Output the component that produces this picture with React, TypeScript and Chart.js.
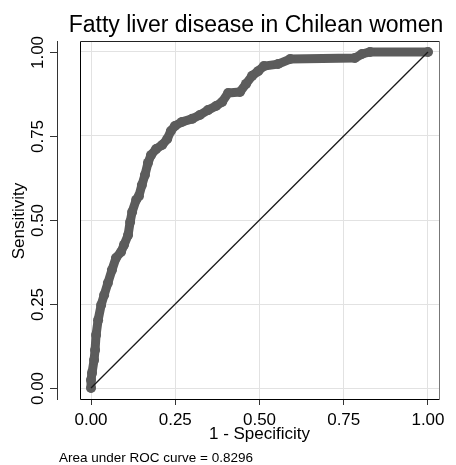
import React, { useEffect, useRef } from "react";
import { Chart, registerables } from "chart.js";

Chart.register(...registerables);

// 1 - Specificity (false positive rate)
const FPR = [0, 0, 0.003, 0.009, 0.012, 0.015, 0.021, 0.030, 0.039, 0.050, 0.062, 0.074, 0.089, 0.098, 0.110, 0.116, 0.122, 0.134, 0.142, 0.151, 0.160, 0.169, 0.178, 0.193, 0.211, 0.226, 0.237, 0.249, 0.270, 0.300, 0.323, 0.347, 0.371, 0.389, 0.407, 0.442, 0.460, 0.478, 0.496, 0.513, 0.555, 0.591, 0.783, 0.804, 0.828, 1.0];
// Sensitivity
const SENS = [0, 0.024, 0.045, 0.083, 0.113, 0.158, 0.202, 0.247, 0.277, 0.3125, 0.351, 0.387, 0.405, 0.426, 0.455, 0.494, 0.524, 0.560, 0.571, 0.604, 0.634, 0.670, 0.693, 0.711, 0.723, 0.741, 0.765, 0.780, 0.792, 0.801, 0.8125, 0.827, 0.839, 0.851, 0.878, 0.881, 0.905, 0.929, 0.943, 0.958, 0.964, 0.979, 0.982, 0.994, 1.0, 1.0];
// Reference (chance) line
const DIAG_X = [0, 1];
const DIAG_Y = [0, 1];
const TICKS = [0, 0.25, 0.5, 0.75, 1];
const TICK_LABELS = ["0.00", "0.25", "0.50", "0.75", "1.00"];

const TITLE = "Fatty liver disease in Chilean women";
const X_TITLE = "1 - Specificity";
const Y_TITLE = "Sensitivity";
const NOTE = "Area under ROC curve = 0.8296";

const FONT = "'Liberation Sans', Arial, Helvetica, sans-serif";

const decorPlugin = {
  id: "decor",
  afterDraw(chart: any) {
    const ctx = chart.ctx as CanvasRenderingContext2D;
    const ca = chart.chartArea;
    const ys = chart.scales.y;
    ctx.save();
    // plot frame
    ctx.lineWidth = 1;
    ctx.strokeStyle = "#000";
    ctx.beginPath();
    ctx.moveTo(ca.left + 0.5, ca.top + 0.5);
    ctx.lineTo(ca.left + 0.5, ca.bottom + 0.5);
    ctx.lineTo(ca.right + 0.5, ca.bottom + 0.5);
    ctx.stroke();
    ctx.strokeStyle = "#222";
    ctx.beginPath();
    ctx.moveTo(ca.left + 0.5, ca.top + 0.5);
    ctx.lineTo(ca.right + 0.5, ca.top + 0.5);
    ctx.stroke();
    ctx.strokeStyle = "#777";
    ctx.beginPath();
    ctx.moveTo(ca.right + 0.5, ca.top + 0.5);
    ctx.lineTo(ca.right + 0.5, ca.bottom + 0.5);
    ctx.stroke();

    // offset y axis
    const axX = ca.left - 23;
    ctx.strokeStyle = "#333";
    ctx.beginPath();
    ctx.moveTo(axX + 0.5, ca.top);
    ctx.lineTo(axX + 0.5, ca.bottom + 1);
    ctx.stroke();
    ctx.fillStyle = "#000";
    ctx.font = `17px ${FONT}`;
    TICKS.forEach((v, i) => {
      const py = Math.round(ys.getPixelForValue(v)) + 0.5;
      ctx.beginPath();
      ctx.moveTo(axX - 7, py);
      ctx.lineTo(axX + 0.5, py);
      ctx.stroke();
      ctx.save();
      ctx.translate(axX - 14, py);
      ctx.rotate(-Math.PI / 2);
      ctx.textAlign = "center";
      ctx.textBaseline = "alphabetic";
      ctx.fillText(TICK_LABELS[i], 0, 0);
      ctx.restore();
    });
    // y title
    ctx.save();
    ctx.translate(24, ys.getPixelForValue(0.5) + 1);
    ctx.rotate(-Math.PI / 2);
    ctx.textAlign = "center";
    ctx.textBaseline = "alphabetic";
    ctx.fillText(Y_TITLE, 0, 0);
    ctx.restore();

    // title
    ctx.font = `23px ${FONT}`;
    ctx.textAlign = "center";
    ctx.textBaseline = "alphabetic";
    ctx.fillText(TITLE, 256, 32);

    // note
    ctx.font = `13.5px ${FONT}`;
    ctx.textAlign = "left";
    ctx.fillText(NOTE, 59, 462);
    ctx.restore();
  },
};

export default function App() {
  const ref = useRef<HTMLCanvasElement | null>(null);
  useEffect(() => {
    if (!ref.current) return;
    const chart = new Chart(ref.current, {
      type: "scatter",
      data: {
        datasets: [
          {
            label: "Reference",
            data: DIAG_X.map((x, i) => ({ x, y: DIAG_Y[i] })),
            showLine: true,
            borderColor: "#1a1a1a",
            borderWidth: 1.3,
            pointRadius: 0,
            order: 0,
          },
          {
            label: "ROC",
            data: FPR.map((x, i) => ({ x, y: SENS[i] })),
            showLine: true,
            borderColor: "#5c5c5c",
            backgroundColor: "#5c5c5c",
            borderWidth: 9,
            borderJoinStyle: "round",
            borderCapStyle: "round",
            pointRadius: 5,
            pointBorderWidth: 0,
            order: 1,
          },
        ],
      },
      options: {
        responsive: true,
        maintainAspectRatio: false,
        animation: false,
        layout: { padding: { left: 0, right: 17, top: 41, bottom: 0 } },
        plugins: {
          legend: { display: false },
          tooltip: { enabled: false },
          title: { display: false },
        },
        scales: {
          x: {
            type: "linear",
            min: -0.0327,
            max: 1.0327,
            afterBuildTicks: (s: any) => {
              s.ticks = TICKS.map((v) => ({ value: v }));
            },
            afterFit: (s: any) => {
              s.height = 66;
            },
            grid: {
              color: "#e2e2e2",
              lineWidth: 1,
              tickLength: 6,
              tickColor: "#333",
              drawTicks: true,
            },
            border: { display: false },
            ticks: {
              padding: 5,
              color: "#000",
              font: { family: FONT, size: 17 },
              maxRotation: 0,
              callback: (v: any) => TICK_LABELS[TICKS.indexOf(Number(v))] ?? "",
            },
            title: {
              display: true,
              text: X_TITLE,
              color: "#000",
              font: { family: FONT, size: 17 },
              padding: { top: 0, bottom: 20 },
            },
          },
          y: {
            type: "linear",
            min: -0.0327,
            max: 1.0327,
            afterBuildTicks: (s: any) => {
              s.ticks = TICKS.map((v) => ({ value: v }));
            },
            afterFit: (s: any) => {
              s.width = 80;
            },
            grid: { color: "#e2e2e2", lineWidth: 1, drawTicks: false },
            border: { display: false },
            ticks: { display: false },
          },
        },
      },
      plugins: [decorPlugin],
    });
    return () => chart.destroy();
  }, []);
  return (
    <div style={{ position: "fixed", left: 0, top: 0, width: 456, height: 465, background: "#fff" }}>
      <canvas ref={ref} />
    </div>
  );
}
